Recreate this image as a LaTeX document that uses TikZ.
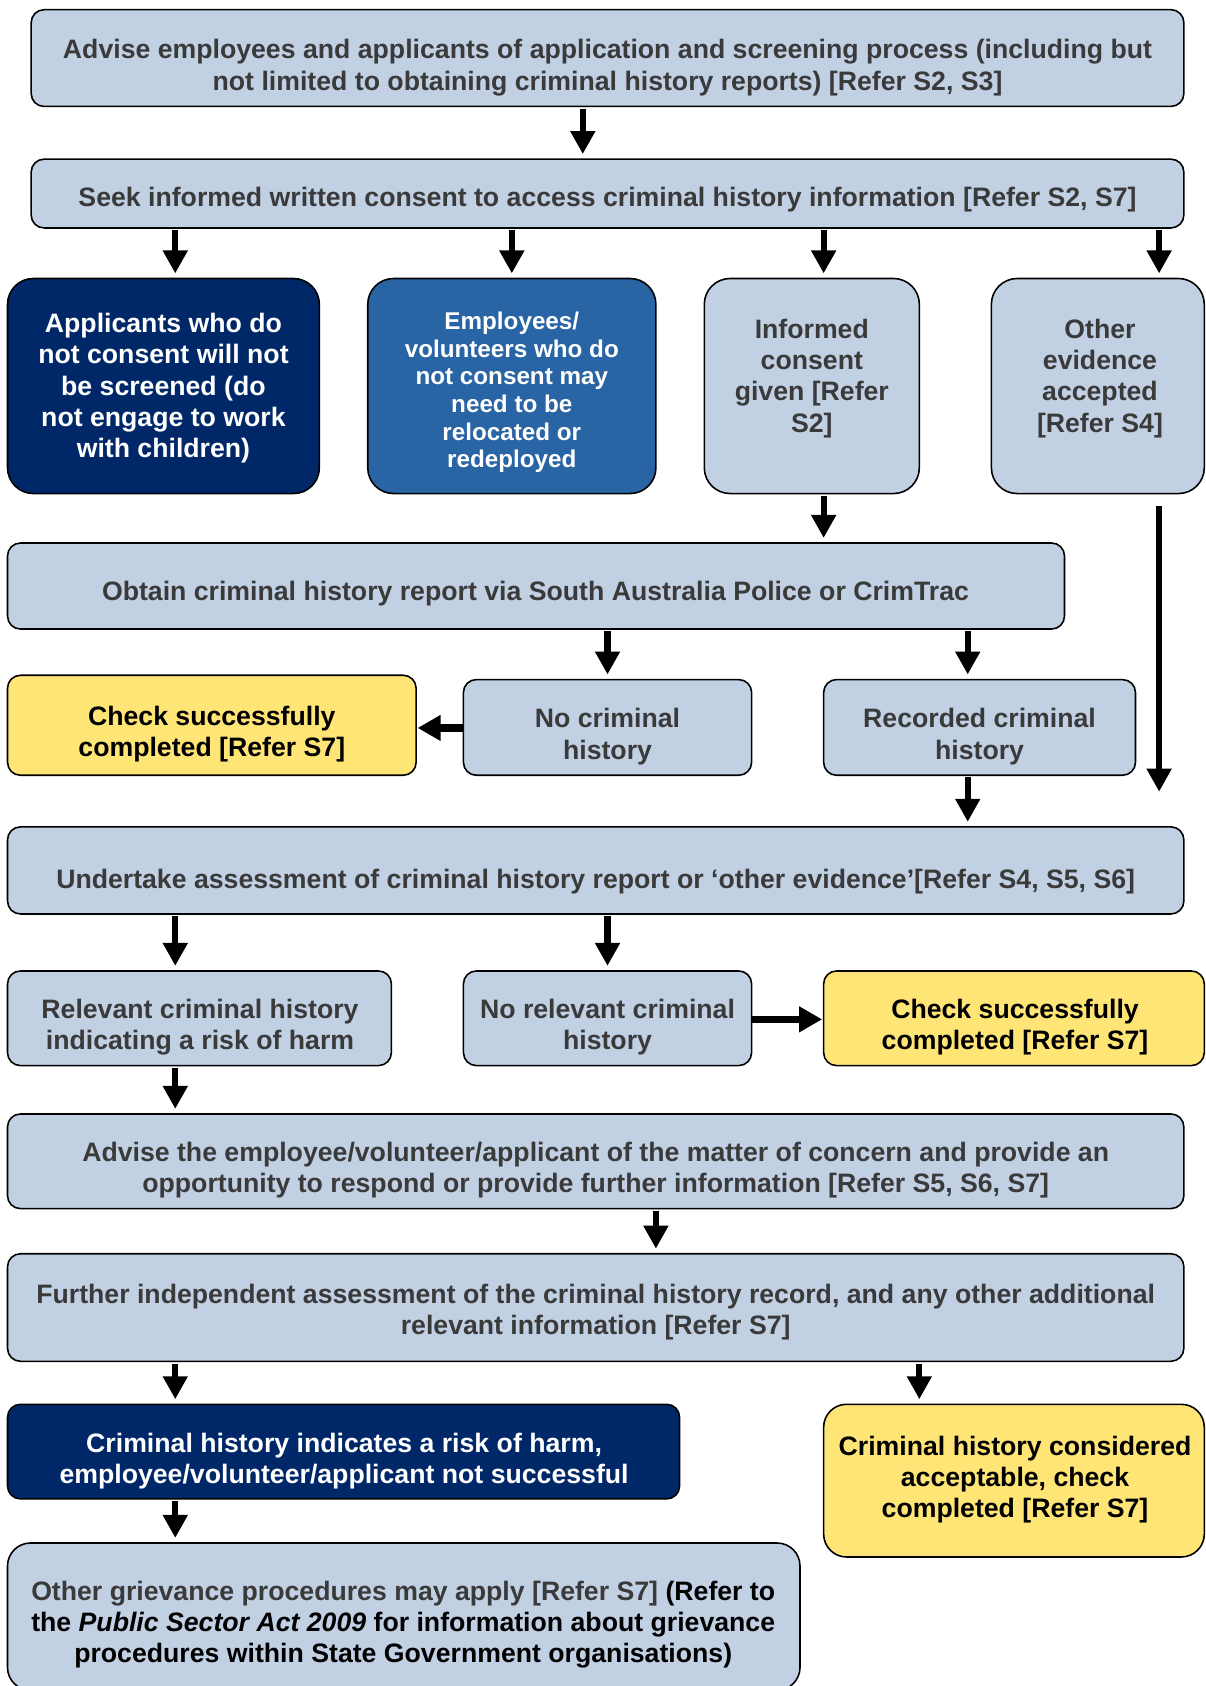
\documentclass[tikz,border=0pt]{standalone}
\usepackage{fontspec}
\setmainfont{Liberation Sans}
\usetikzlibrary{arrows.meta,fit}
\definecolor{cLight}{RGB}{193,208,227}
\definecolor{cNavy}{RGB}{0,40,104}
\definecolor{cMid}{RGB}{41,100,164}
\definecolor{cYel}{RGB}{255,229,118}
\definecolor{cTxt}{RGB}{58,58,58}
\newcommand\fA{\fontsize{18.6pt}{21.75pt}\selectfont\bfseries}
\newcommand\fB{\fontsize{16.9pt}{19.2pt}\selectfont\bfseries}
\begin{document}
\begin{tikzpicture}[x=0.75pt,y=-0.75pt,
  box/.style={draw=black, line width=1.1pt, inner sep=0pt, rounded corners=9pt},
  lbox/.style={box, fill=cLight},
  nbox/.style={box, fill=cNavy},
  mbox/.style={box, fill=cMid},
  ybox/.style={box, fill=cYel},
  tall/.style={rounded corners=18pt},
  tx/.style={font=\fA, align=center, inner sep=0pt, text=cTxt},
  tw/.style={tx, text=white},
  tk/.style={tx, text=black},
  arr/.style={line width=4.3pt, -{Triangle[width=16.5pt,length=16pt]}, shorten >=3pt, shorten <=1pt},
  tarr/.style={line width=5pt, -{Triangle[width=17pt,length=16pt]}, shorten >=0.5pt}]
\useasboundingbox (0,0) rectangle (1121,1568);
\clip (0,0) rectangle (1121,1568);
% boxes
\node[lbox, fit={(29,9) (1101,99)}] (b1) {};
\node[lbox, fit={(29,148) (1101,212)}] (b2) {};
\node[nbox, tall, fit={(7,259) (297,459)}] (b3) {};
\node[mbox, tall, fit={(342,259) (610,459)}] (b4) {};
\node[lbox, tall, fit={(655,259) (855,459)}] (b5) {};
\node[lbox, tall, fit={(922,259) (1120,459)}] (b6) {};
\node[lbox, fit={(7,505) (990,585)}] (b7) {};
\node[ybox, fit={(7,628) (387,721)}] (b8) {};
\node[lbox, fit={(431,632) (699,721)}] (b9) {};
\node[lbox, fit={(766,632) (1056,721)}] (b10) {};
\node[lbox, fit={(7,769) (1101,850)}] (b11) {};
\node[lbox, fit={(7,903) (364,991)}] (b12) {};
\node[lbox, fit={(431,903) (699,991)}] (b13) {};
\node[ybox, fit={(766,903) (1120,991)}] (b14) {};
\node[lbox, fit={(7,1036) (1101,1124)}] (b15) {};
\node[lbox, fit={(7,1166) (1101,1266)}] (b16) {};
\node[nbox, fit={(7,1306) (632,1394)}] (b17) {};
\node[ybox, rounded corners=16pt, fit={(766,1306) (1120,1448)}] (b18) {};
\node[lbox, rounded corners=16pt, fit={(7,1435) (744,1572)}] (b19) {};
% texts
\node[tx] (t1) at (565,63) {Advise employees and applicants of application and screening process (including but\\not limited to obtaining criminal history reports) [Refer S2, S3]};
\node[tx] (t2) at (565,186) {Seek informed written consent to access criminal history information [Refer S2, S7]};
\node[tw] (t3) at (152,361) {Applicants who do\\not consent will not\\be screened (do\\not engage to work\\with children)};
\node[tw, font=\fB] (t4) at (476,365) {Employees/\\volunteers who do\\not consent may\\need to be\\relocated or\\redeployed};
\node[tx] (t5) at (755,352) {Informed\\consent\\given [Refer\\S2]};
\node[tx] (t6) at (1023,352) {Other\\evidence\\accepted\\{[Refer S4]}};
\node[tx] (t7) at (498,552) {Obtain criminal history report via South Australia Police or CrimTrac};
\node[tk] (t8) at (197,683) {Check successfully\\completed [Refer S7]};
\node[tx] (t9) at (565,685) {No criminal\\history};
\node[tx] (t10) at (911,685) {Recorded criminal\\history};
\node[tx] (t11) at (554,820) {Undertake assessment of criminal history report or ‘other evidence’[Refer S4, S5, S6]};
\node[tx] (t12) at (186,955) {Relevant criminal history\\indicating a risk of harm};
\node[tx] (t13) at (565,955) {No relevant criminal\\history};
\node[tk] (t14) at (944,955) {Check successfully\\completed [Refer S7]};
\node[tx] (t15) at (554,1088) {Advise the employee/volunteer/applicant of the matter of concern and provide an\\opportunity to respond or provide further information [Refer S5, S6, S7]};
\node[tx] (t16) at (554,1220) {Further independent assessment of the criminal history record, and any other additional\\relevant information [Refer S7]};
\node[tw] (t17) at (320,1359) {Criminal history indicates a risk of harm,\\employee/volunteer/applicant not successful};
\node[tk] (t18) at (944,1376) {Criminal history considered\\acceptable, check\\completed [Refer S7]};
\node[tk] (t19) at (375,1511) {{\color{cTxt}Other grievance procedures may apply [Refer S7]} (Refer to\\the \textit{Public Sector Act 2009} for information about grievance\\procedures within State Government organisations)};
% connectors
\draw[arr] (542,0 |- b1.south) -- (542,0 |- b2.north);
\draw[arr] (163,0 |- b2.south) -- (163,0 |- b3.north);
\draw[arr] (476,0 |- b2.south) -- (476,0 |- b4.north);
\draw[arr] (766,0 |- b2.south) -- (766,0 |- b5.north);
\draw[arr] (1078,0 |- b2.south) -- (1078,0 |- b6.north);
\draw[arr] (766,0 |- b5.south) -- (766,0 |- b7.north);
\draw[arr, shorten <=8pt, shorten >=24pt] (1078,0 |- b6.south) -- (1078,0 |- b11.north);
\draw[arr] (565,0 |- b7.south) -- (565,0 |- b9.north);
\draw[arr] (900,0 |- b7.south) -- (900,0 |- b10.north);
\draw[tarr] (b9.west |- 0,677) -- (b8.east |- 0,677);
\draw[arr] (900,0 |- b10.south) -- (900,0 |- b11.north);
\draw[arr] (163,0 |- b11.south) -- (163,0 |- b12.north);
\draw[arr] (565,0 |- b11.south) -- (565,0 |- b13.north);
\draw[tarr] (b13.east |- 0,948) -- (b14.west |- 0,948);
\draw[arr] (163,0 |- b12.south) -- (163,0 |- b15.north);
\draw[arr] (610,0 |- b15.south) -- (610,0 |- b16.north);
\draw[arr] (163,0 |- b16.south) -- (163,0 |- b17.north);
\draw[arr] (855,0 |- b16.south) -- (855,0 |- b18.north);
\draw[arr] (163,0 |- b17.south) -- (163,0 |- b19.north);
\end{tikzpicture}
\end{document}
